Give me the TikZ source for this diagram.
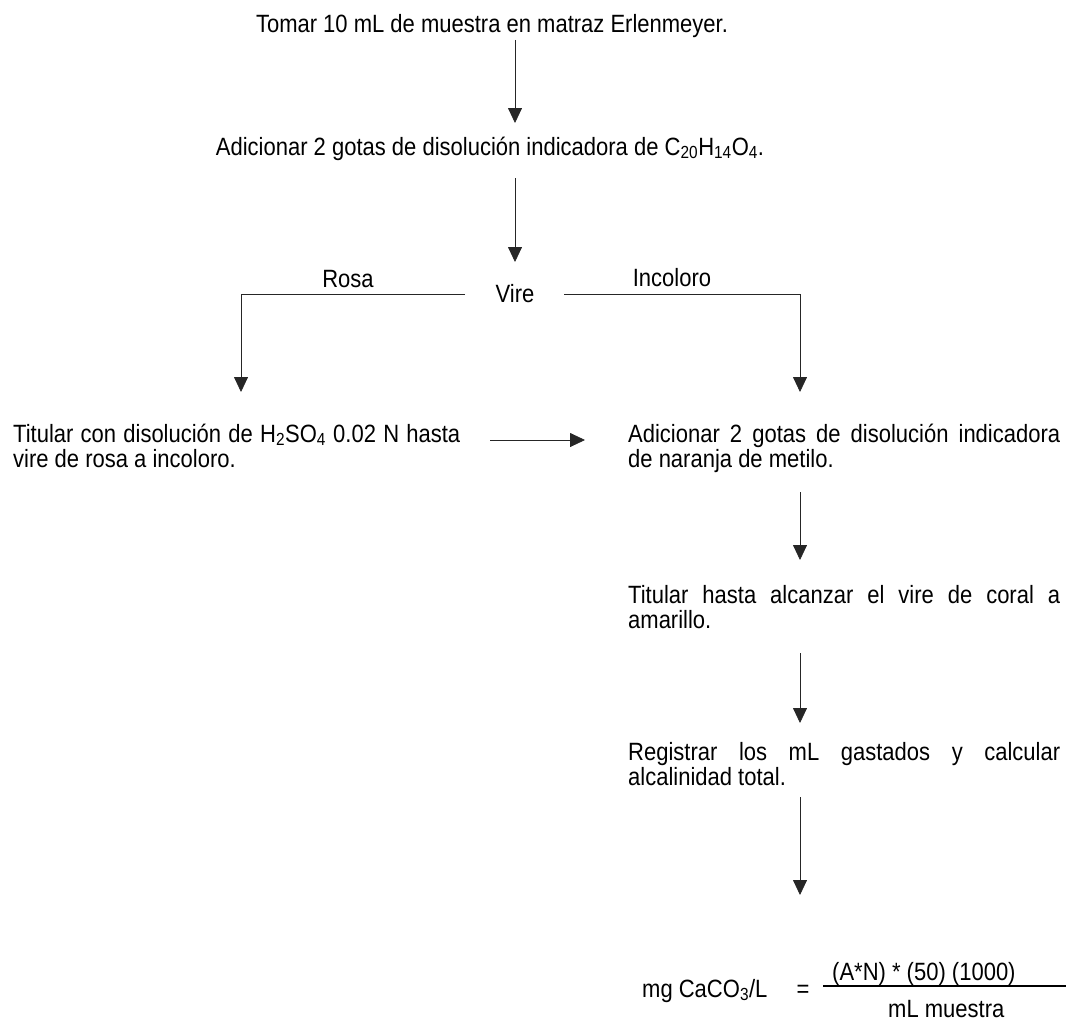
\documentclass[tikz,border=0pt]{standalone}
\usepackage{fontspec}
\setmainfont{Liberation Sans}[FakeStretch=0.88]
\usetikzlibrary{arrows.meta}
\hyphenpenalty=10000
\exhyphenpenalty=10000
\newcommand{\topstrut}{\rule{0pt}{19pt}}
\begin{document}
\begin{tikzpicture}[x=1pt,y=-1pt,
  txt/.style={inner sep=0pt, font=\fontsize{25}{25}\selectfont},
  blk/.style={txt, align=justify, anchor=north west},
  ln/.style={line width=0.8pt, draw=black!85},
  arr/.style={ln, -{Triangle[width=14pt,length=15pt]}}]
\useasboundingbox (0,0) rectangle (1068,1025);

% texts
\node[txt, anchor=base] (t1) at (492,33) {Tomar 10 mL de muestra en matraz Erlenmeyer.};
\node[txt, anchor=base] (t2) at (490,155) {Adicionar 2 gotas de disolución indicadora de C\textsubscript{20}H\textsubscript{14}O\textsubscript{4}.};
\node[txt, anchor=base] (vire) at (515,302) {Vire};
\node[txt, anchor=base] (rosa) at (348,287) {Rosa};
\node[txt, anchor=base] (incol) at (672,286) {Incoloro};
\node[blk, text width=447pt] (left) at (13,423) {\topstrut Titular con disolución de H\textsubscript{2}SO\textsubscript{4} 0.02 N hasta\linebreak vire de rosa a incoloro.};
\node[blk, text width=432pt] (r1) at (628,423) {\topstrut Adicionar 2 gotas de disolución indicadora\linebreak de naranja de metilo.};
\node[blk, text width=432pt] (r2) at (628,584) {\topstrut Titular hasta alcanzar el vire de coral a\linebreak amarillo.};
\node[blk, text width=432pt] (r3) at (628,741) {\topstrut Registrar los mL gastados y calcular\linebreak alcalinidad total.};

% formula
\node[txt, anchor=base west] (lhs) at (642,997) {mg CaCO\textsubscript{3}/L};
\node[txt, anchor=base] (eq) at (803,997) {=};
\node[txt, anchor=base west] (num) at (832,980) {(A*N) * (50) (1000)};
\node[txt, anchor=base west] (den) at (888,1017) {mL muestra};
\coordinate (fl) at (823,986);
\coordinate (fr) at (1066,986);
\draw[line width=1.1pt] (fl) -- (fr);

% connector points
\coordinate (a1s) at (515,40);  \coordinate (a1e) at (515,123);
\coordinate (a2s) at (515,178); \coordinate (a2e) at (515,262);
\coordinate (ls) at (465,294);  \coordinate (lc) at (241,294); \coordinate (le) at (241,392);
\coordinate (rs) at (564,294);  \coordinate (rc) at (800,294); \coordinate (re) at (800,392);
\coordinate (hs) at (490,440);  \coordinate (he) at (585,440);
\coordinate (b1s) at (800,492); \coordinate (b1e) at (800,560);
\coordinate (b2s) at (800,653); \coordinate (b2e) at (800,723);
\coordinate (b3s) at (800,797); \coordinate (b3e) at (800,895);

\draw[arr] (a1s) -- (a1e);
\draw[arr] (a2s) -- (a2e);
\draw[arr] (ls) -- (lc) -- (le);
\draw[arr] (rs) -- (rc) -- (re);
\draw[arr] (hs) -- (he);
\draw[arr] (b1s) -- (b1e);
\draw[arr] (b2s) -- (b2e);
\draw[arr] (b3s) -- (b3e);
\end{tikzpicture}
\end{document}
